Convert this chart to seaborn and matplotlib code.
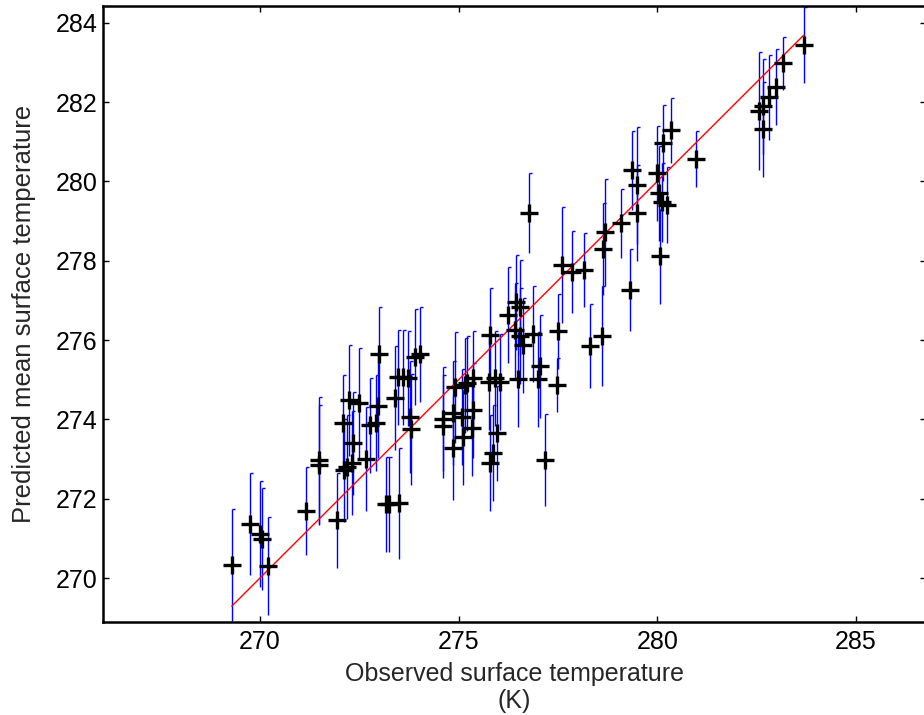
import matplotlib
matplotlib.use("Agg")
import matplotlib.pyplot as plt
import numpy as np
import pandas as pd
import seaborn as sns

# Observed surface temperature (K)
observed = [269.29, 269.75, 270.00, 270.05, 270.20, 271.16, 271.49, 271.49, 271.94,
            272.12, 272.19, 272.32, 272.34, 272.09, 272.24, 272.49, 272.67, 272.77,
            272.92, 272.97, 273.40, 273.17, 273.25, 273.50, 273.78, 273.80, 274.61,
            274.61, 274.86, 274.86, 274.91, 275.09, 275.37, 275.34, 275.11, 275.97,
            275.87, 275.79, 277.18, 275.77, 275.92, 276.05, 275.37, 275.21, 275.16,
            276.50, 277.00, 277.05, 277.48, 275.79, 276.42, 276.55, 276.88, 276.62,
            277.51, 278.31, 278.61, 276.45, 276.55, 276.25, 277.61, 277.86, 278.16,
            278.64, 278.69, 279.09, 279.32, 276.78, 279.37, 279.50, 279.50, 280.00,
            280.05, 280.13, 280.25, 280.08, 280.15, 280.35, 280.98, 282.57, 282.67,
            282.80, 283.00, 283.17, 283.68, 282.67, 273.00, 273.48, 273.60, 273.73,
            273.90, 274.03]
# Predicted mean surface temperature (K)
predicted = [270.33, 271.36, 271.11, 270.98, 270.30, 271.69, 272.97, 272.85, 271.46,
             272.72, 272.80, 272.90, 273.40, 273.91, 274.48, 274.41, 273.00, 273.85,
             273.91, 274.33, 274.54, 271.86, 271.86, 271.89, 274.06, 273.75, 274.01,
             273.83, 274.16, 273.28, 274.81, 274.06, 274.23, 273.78, 273.55, 273.65,
             273.15, 272.90, 272.97, 274.94, 275.04, 274.94, 275.04, 274.91, 274.86,
             275.01, 275.01, 275.34, 274.86, 276.12, 276.25, 276.10, 276.15, 275.87,
             276.22, 275.85, 276.10, 276.95, 276.83, 276.63, 277.89, 277.71, 277.76,
             278.29, 278.72, 278.94, 277.26, 279.20, 280.28, 279.90, 279.20, 280.20,
             279.70, 279.47, 279.40, 278.11, 280.96, 281.29, 280.56, 281.77, 281.89,
             282.12, 282.37, 282.98, 283.43, 281.31, 275.64, 275.06, 275.06, 275.04,
             275.57, 275.64]
# Half-length of the uncertainty bars (K)
uncertainty = [1.40, 1.28, 1.33, 1.28, 1.23, 1.10, 1.60, 1.50, 1.20,
               1.30, 1.30, 1.30, 1.30, 1.20, 1.40, 1.40, 1.30, 1.20,
               1.20, 1.30, 1.30, 1.20, 1.20, 1.40, 1.40, 1.40, 1.30,
               1.30, 1.30, 1.30, 1.40, 1.20, 1.20, 1.20, 1.20, 1.20,
               1.20, 1.20, 1.16, 1.20, 1.20, 1.20, 1.20, 1.20, 1.20,
               1.20, 1.20, 1.30, 0.68, 1.20, 1.20, 1.20, 1.20, 1.20,
               0.95, 1.06, 1.27, 1.20, 1.20, 1.20, 1.46, 1.03, 0.93,
               1.16, 1.35, 0.86, 1.03, 1.00, 1.00, 1.48, 1.20, 1.20,
               1.20, 1.00, 0.96, 1.20, 0.96, 0.82, 0.70, 1.49, 1.20,
               1.07, 0.96, 0.67, 0.96, 1.20, 1.20, 1.20, 1.20, 1.20,
               1.20, 1.20]

x_ticks = [270, 275, 280, 285]
y_ticks = [270, 272, 274, 276, 278, 280, 282, 284]
x_label = "Observed surface temperature\n(K)"
y_label = "Predicted mean surface temperature"

sns.set_style("ticks")
plt.rcParams["font.family"] = ["Liberation Sans", "DejaVu Sans"]

df = pd.DataFrame({"observed": observed, "predicted": predicted, "err": uncertainty})

fig = plt.figure(figsize=(9.24, 7.15), dpi=100)
ax = fig.add_axes([103 / 924, 1 - 621.7 / 715, (925.5 - 103) / 924, (621.7 - 6) / 715])

# vertical uncertainty bars with a small cap at the top
ax.vlines(df["observed"], df["predicted"] - df["err"], df["predicted"] + df["err"],
          color="#0000ff", linewidth=1, zorder=1)
ax.plot(df["observed"], df["predicted"] + df["err"], linestyle="none", marker=1,
        markersize=2.5, markeredgewidth=1, color="#0000ff", zorder=1)

# 1:1 line over the observed range
line_df = pd.DataFrame({"x": [df["observed"].min(), df["observed"].max()]})
line_df["y"] = line_df["x"]
sns.lineplot(data=line_df, x="x", y="y", color="#ff0000", linewidth=1, ax=ax, zorder=2)

sns.scatterplot(data=df, x="observed", y="predicted", marker="+", s=150,
                color="black", linewidth=2.4, ax=ax, zorder=3)

ax.set_xlim(266.05, 286.75)
ax.set_ylim(268.9, 284.42)
ax.set_xticks(x_ticks)
ax.set_yticks(y_ticks)
ax.tick_params(direction="in", top=True, right=True, length=4, width=1,
               labelsize=18, colors="black")
ax.tick_params(axis="y", pad=4)
ax.tick_params(axis="x", pad=6)
for sp in ax.spines.values():
    sp.set_linewidth(1.8)
    sp.set_color("black")

ax.set_xlabel(x_label, fontsize=18, labelpad=6, linespacing=1.15)
ax.set_ylabel(y_label, fontsize=18.5, labelpad=14)

fig.savefig("out.png", dpi=100)
